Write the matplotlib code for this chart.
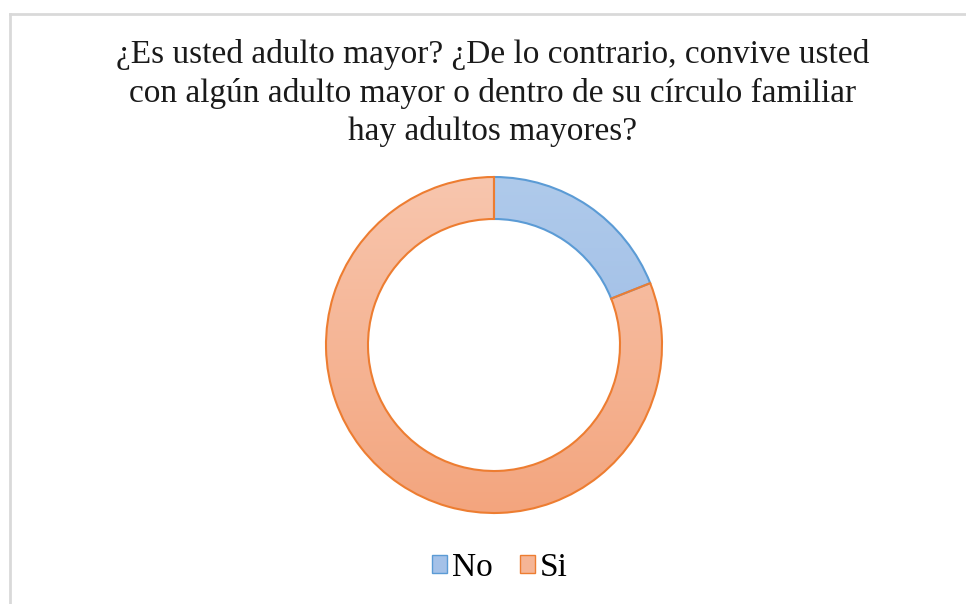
import numpy as np
import matplotlib
matplotlib.use("Agg")
import matplotlib.pyplot as plt
from matplotlib.lines import Line2D
from matplotlib.patches import Patch

labels = ["No", "Si"]
values = [19, 81]
edge_colors = ["#5b9bd5", "#ed7d31"]
grad_top = ["#afcaeb", "#f8c6ae"]
grad_bottom = ["#97b7e3", "#f3a57e"]
legend_colors = ["#a4c1e8", "#f5b596"]
title = ("¿Es usted adulto mayor? ¿De lo contrario, convive usted\n"
         "con algún adulto mayor o dentro de su círculo familiar\n"
         "hay adultos mayores?")

plt.rcParams['font.family'] = ['Liberation Serif', 'DejaVu Serif']

W, H = 966, 604
fig = plt.figure(figsize=(W / 100, H / 100), dpi=100)

# light grey chart border (top and left visible)
fig.add_artist(Line2D([10 / W, 965 / W], [1 - 14 / H, 1 - 14 / H],
                      color="#d9d9d9", lw=2, transform=fig.transFigure))
fig.add_artist(Line2D([10 / W, 10 / W], [0, 1 - 14 / H],
                      color="#d9d9d9", lw=2, transform=fig.transFigure))

fig.text(493 / W, 1 - 93 / H, title, ha="center", va="center",
         fontsize=24, linespacing=1.3, color="#1a1a1a")

# donut axes: centre (494, 345), outer radius 168 px
r_px = 168
ax = fig.add_axes([(494 - r_px) / W, 1 - (345 + r_px) / H,
                   2 * r_px / W, 2 * r_px / H])
wedges, _ = ax.pie(values, startangle=90, counterclock=False,
                   radius=1.0, wedgeprops=dict(width=0.25, linewidth=1.5))
ax.set_xlim(-1, 1)
ax.set_ylim(-1, 1)
ax.set_aspect("equal")
ax.axis("off")

for i, w in enumerate(wedges):
    w.set_facecolor("none")
    w.set_edgecolor(edge_colors[i])
    w.set_zorder(3)
    c0 = np.array(matplotlib.colors.to_rgb(grad_top[i]))
    c1 = np.array(matplotlib.colors.to_rgb(grad_bottom[i]))
    t = np.linspace(0, 1, 256)[:, None]
    grad = (c0 * (1 - t) + c1 * t)[:, None, :]
    im = ax.imshow(grad, extent=[-1, 1, -1, 1], origin="upper",
                   aspect="auto", zorder=2)
    im.set_clip_path(w)

handles = [Patch(facecolor=legend_colors[i], edgecolor=edge_colors[i],
                 label=labels[i]) for i in range(len(labels))]
fig.legend(handles=handles, loc="center", bbox_to_anchor=(500 / W, 1 - 568 / H),
           ncol=2, frameon=False, fontsize=24, handlelength=0.45,
           handleheight=0.45, handletextpad=0.15, columnspacing=0.8)

fig.savefig("out.png", dpi=100, facecolor="white")
